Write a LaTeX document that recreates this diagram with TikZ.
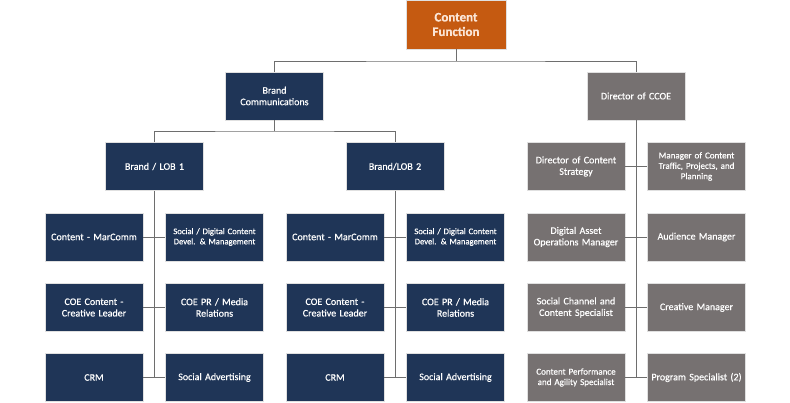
\documentclass[tikz,border=0pt]{standalone}
\usepackage{fontspec}
\setmainfont{Carlito}[FakeBold=0.5]
\definecolor{navybox}{HTML}{1F3557}
\definecolor{greybox}{HTML}{767171}
\definecolor{orangebox}{HTML}{C55A11}
\definecolor{creamtext}{HTML}{FBE5D6}
\definecolor{linkgrey}{HTML}{6E6E6E}
\begin{document}
\begin{tikzpicture}[x=1pt, y=-1pt,
		box/.style={rectangle, draw=black!12, line width=0.6pt, minimum width=98pt, minimum height=48pt, text width=94pt, align=center, inner sep=1pt, text=white, font=\fontsize{10}{11.5}\selectfont},
		navy/.style={box, fill=navybox},
		grey/.style={box, fill=greybox},
		small/.style={font=\fontsize{8.6}{10.2}\selectfont},
		link/.style={draw=linkgrey, line width=0.9pt}]
			\useasboundingbox (0,0) rectangle (790,403);
			
			\node[box, fill=orangebox, minimum width=100pt, minimum height=49pt, text=creamtext, font=\fontsize{13}{14.5}\selectfont\bfseries] (func) at (456,24.5) {Content\\Function};
			\node[navy] (brand) at (274.5,96) {Brand\\Communications};
			\node[grey] (ccoe) at (636,96) {Director of CCOE};
			
			% brand lines of business
			\node[navy] (lob1) at (154.5,166.5) {Brand / LOB 1};
			\node[navy] (lob2) at (395,166.5) {Brand/LOB 2};
			
			\node[navy] (mar1) at (94,237) {Content - MarComm};
			\node[navy, small] (soc1) at (214.5,237) {Social / Digital Content\\Devel. \& Management};
			\node[navy] (coe1) at (94,307.5) {COE Content -\\Creative Leader};
			\node[navy] (pr1) at (214.5,307.5) {COE PR / Media\\Relations};
			\node[navy] (crm1) at (94,377.5) {CRM};
			\node[navy] (adv1) at (214.5,377.5) {Social Advertising};
			
			\node[navy] (mar2) at (335,237) {Content - MarComm};
			\node[navy, small] (soc2) at (455.5,237) {Social / Digital Content\\Devel. \& Management};
			\node[navy] (coe2) at (335,307.5) {COE Content -\\Creative Leader};
			\node[navy] (pr2) at (455.5,307.5) {COE PR / Media\\Relations};
			\node[navy] (crm2) at (335,377.5) {CRM};
			\node[navy] (adv2) at (455.5,377.5) {Social Advertising};
			
			% CCOE team
			\node[grey] (strat) at (576,166.5) {Director of Content\\Strategy};
			\node[grey, font=\fontsize{9}{10.4}\selectfont] (traffic) at (696.5,166.5) {Manager of Content\\Traffic, Projects, and\\Planning};
			\node[grey] (asset) at (576,237) {Digital Asset\\Operations Manager};
			\node[grey] (aud) at (696.5,237) {Audience Manager};
			\node[grey] (chan) at (576,307.5) {Social Channel and\\Content Specialist};
			\node[grey] (creat) at (696.5,307.5) {Creative Manager};
			\node[grey, font=\fontsize{9}{10.4}\selectfont] (perf) at (576,377.5) {Content Performance\\and Agility Specialist};
			\node[grey] (prog) at (696.5,377.5) {Program Specialist (2)};
			
			\coordinate (top) at (456,61);
			\coordinate (mid) at (274.5,131);
			
			\draw[link] (func) -- (top);
			\draw[link] (brand.north) |- (top) -| (ccoe.north);
			\draw[link] (brand) -- (mid);
			\draw[link] (lob1.north) |- (mid) -| (lob2.north);
			
			\draw[link] (lob1.south) -- (lob1.south |- crm1.east);
			\draw[link] (lob2.south) -- (lob2.south |- crm2.east);
			\draw[link] (ccoe.south) -- (ccoe.south |- perf.east);
			
			\draw[link] (mar1) -- (soc1);
			\draw[link] (coe1) -- (pr1);
			\draw[link] (crm1) -- (adv1);
			\draw[link] (mar2) -- (soc2);
			\draw[link] (coe2) -- (pr2);
			\draw[link] (crm2) -- (adv2);
			\draw[link] (strat) -- (traffic);
			\draw[link] (asset) -- (aud);
			\draw[link] (chan) -- (creat);
			\draw[link] (perf) -- (prog);
			
		\end{tikzpicture}
\end{document}
